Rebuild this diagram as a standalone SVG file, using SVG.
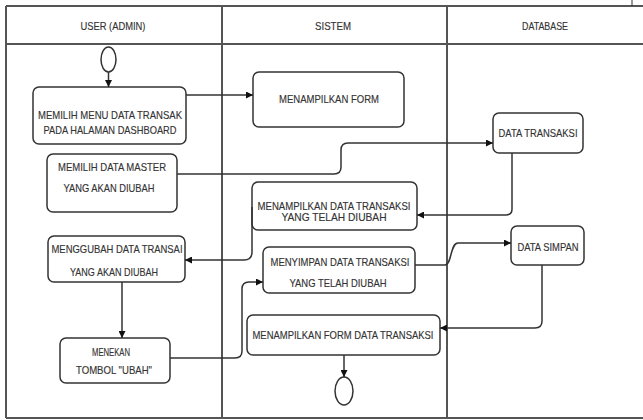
<svg xmlns="http://www.w3.org/2000/svg" width="643" height="420" viewBox="0 0 643 420">
<defs>
<style>
.frame{stroke:#555;stroke-width:2;fill:none}
.box{fill:#fff;stroke:#333;stroke-width:1.5}
.t{font-family:"Liberation Sans",Arial,sans-serif;font-size:11.5px;fill:#333;stroke:#333;stroke-width:0.15;text-anchor:middle}
.c{fill:none;stroke:#333;stroke-width:1.5}
</style>
<marker id="arr" viewBox="0 0 10 10" refX="10" refY="5" markerWidth="7" markerHeight="7" markerUnits="userSpaceOnUse" orient="auto">
<path d="M0,0 L10,5 L0,10 Z" fill="#111"/>
</marker>
</defs>
<rect width="643" height="420" fill="#fff"/>
<g id="frame">
<path class="frame" d="M6,6 H643 M6,44 H643 M6,418 H643 M6,6 V418 M222,6 V418 M447,6 V418"/>
<path d="M632,0 V6" stroke="#333" stroke-width="1"/>
<text class="t" x="113" y="30" textLength="65" lengthAdjust="spacingAndGlyphs">USER (ADMIN)</text>
<text class="t" x="333" y="30" textLength="36" lengthAdjust="spacingAndGlyphs">SISTEM</text>
<text class="t" x="545" y="30" textLength="46" lengthAdjust="spacingAndGlyphs">DATABASE</text>
</g>
<g id="start"><ellipse cx="108.5" cy="59.5" rx="7.5" ry="12.5" class="c"/></g>
<g id="n1"><rect class="box" x="33" y="87" width="153" height="57" rx="6"/>
<text class="t" x="110" y="119" textLength="144" lengthAdjust="spacingAndGlyphs">MEMILIH MENU DATA TRANSAK</text>
<text class="t" x="110" y="134" textLength="133" lengthAdjust="spacingAndGlyphs">PADA HALAMAN DASHBOARD</text></g>
<g id="n2"><rect class="box" x="47" y="154" width="130" height="58" rx="6"/>
<text class="t" x="112" y="171" textLength="108" lengthAdjust="spacingAndGlyphs">MEMILIH DATA MASTER</text>
<text class="t" x="109" y="192" textLength="91" lengthAdjust="spacingAndGlyphs">YANG AKAN DIUBAH</text></g>
<g id="n3"><rect class="box" x="48" y="236" width="137" height="46" rx="6"/>
<text class="t" x="117" y="253" textLength="131" lengthAdjust="spacingAndGlyphs">MENGGUBAH DATA TRANSAI</text>
<text class="t" x="114" y="276" textLength="88" lengthAdjust="spacingAndGlyphs">YANG AKAN DIUBAH</text></g>
<g id="n4"><rect class="box" x="60" y="338" width="110" height="45" rx="6"/>
<text class="t" x="111" y="356" textLength="38" lengthAdjust="spacingAndGlyphs">MENEKAN</text>
<text class="t" x="114" y="374" textLength="76" lengthAdjust="spacingAndGlyphs">TOMBOL "UBAH"</text></g>
<g id="s1"><rect class="box" x="253" y="72" width="151" height="55" rx="6"/>
<text class="t" x="329" y="103" textLength="100" lengthAdjust="spacingAndGlyphs">MENAMPILKAN FORM</text></g>
<g id="s2"><rect class="box" x="252" y="182" width="165" height="48" rx="6"/>
<text class="t" x="334" y="210" textLength="153" lengthAdjust="spacingAndGlyphs">MENAMPILKAN DATA TRANSAKSI</text>
<text class="t" x="334" y="221" textLength="105" lengthAdjust="spacingAndGlyphs">YANG TELAH DIUBAH</text></g>
<g id="s3"><rect class="box" x="263" y="247" width="152" height="46" rx="6"/>
<text class="t" x="340" y="266" textLength="139" lengthAdjust="spacingAndGlyphs">MENYIMPAN DATA TRANSAKSI</text>
<text class="t" x="338" y="287" textLength="97" lengthAdjust="spacingAndGlyphs">YANG TELAH DIUBAH</text></g>
<g id="s4"><rect class="box" x="247" y="315" width="193" height="40" rx="6"/>
<text class="t" x="343" y="339" textLength="181" lengthAdjust="spacingAndGlyphs">MENAMPILKAN FORM DATA TRANSAKSI</text></g>
<g id="d1"><rect class="box" x="493" y="113" width="90" height="40" rx="6"/>
<text class="t" x="538" y="137" textLength="79" lengthAdjust="spacingAndGlyphs">DATA TRANSAKSI</text></g>
<g id="d2"><rect class="box" x="511" y="226" width="73" height="39" rx="6"/>
<text class="t" x="548" y="251" textLength="61" lengthAdjust="spacingAndGlyphs">DATA SIMPAN</text></g>
<g id="end"><ellipse cx="344" cy="391" rx="9" ry="14" class="c"/></g>
<g id="connectors">
<path class="c" marker-end="url(#arr)" d="M108.5,72 V87"/>
<path class="c" marker-end="url(#arr)" d="M186,95 H253"/>
<path class="c" marker-end="url(#arr)" d="M177,174 H334 Q341,174 341,167 V150 Q341,143 348,143 H493"/>
<path class="c" marker-end="url(#arr)" d="M512,153 V209 Q512,215 506,215 H417"/>
<path class="c" marker-end="url(#arr)" d="M252,207 V252 Q252,260 244,260 H185"/>
<path class="c" marker-end="url(#arr)" d="M122,282 V338"/>
<path class="c" marker-end="url(#arr)" d="M170,358 H235 Q242,358 242,351 V289 Q242,282 249,282 H263"/>
<path class="c" marker-end="url(#arr)" d="M415,265 H445 C452,265 450,243 458,243 H511"/>
<path class="c" marker-end="url(#arr)" d="M542,265 V321 Q542,328 535,328 H440"/>
<path class="c" marker-end="url(#arr)" d="M344,355 V377"/>
</g>
</svg>
